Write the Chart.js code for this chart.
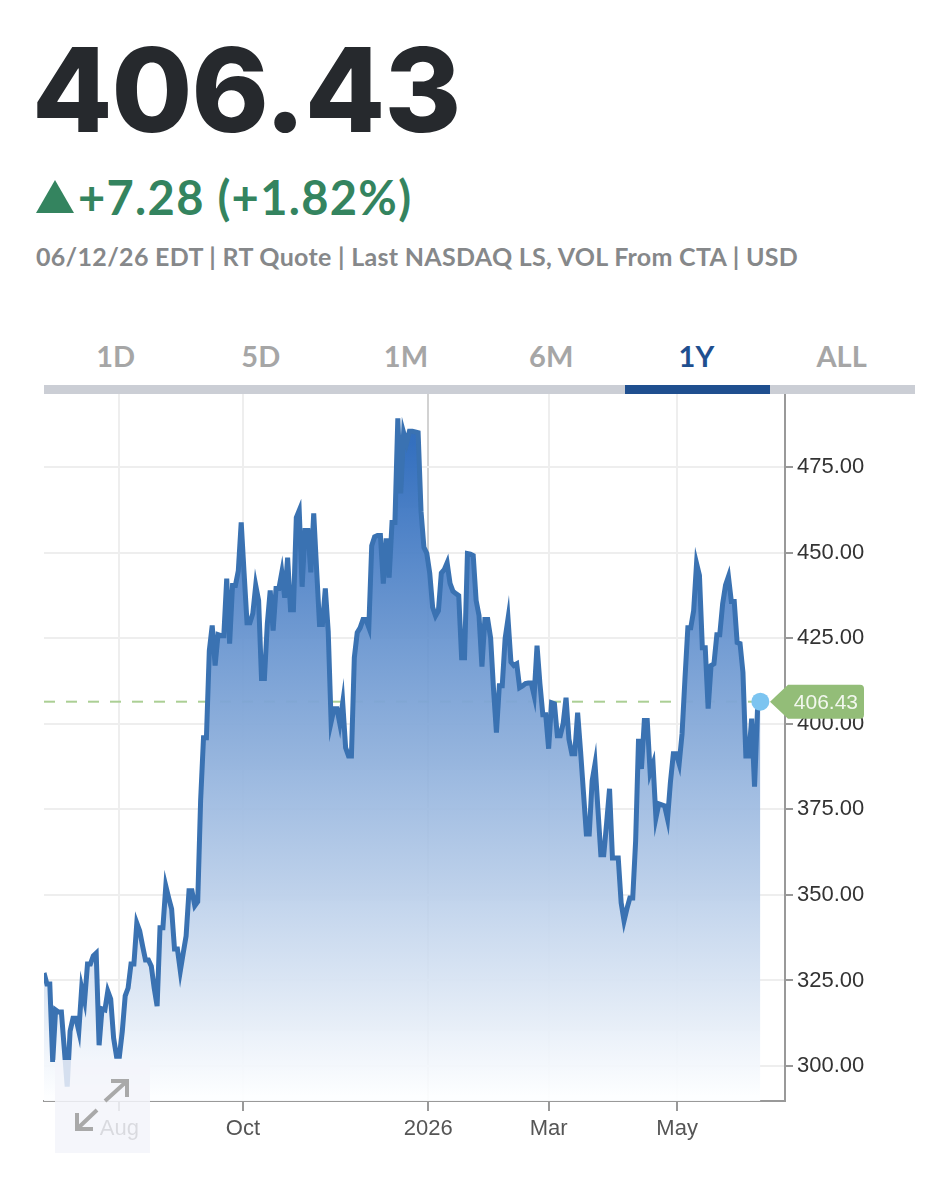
<!DOCTYPE html>
<html>
<head>
<meta charset="utf-8">
<script src="https://cdn.jsdelivr.net/npm/chart.js@4"></script>
<style>
  html, body { margin: 0; padding: 0; background: #fff; overflow: hidden; }
  #page { position: relative; width: 952px; height: 1200px; font-family: Lato, sans-serif; }
  .abs { position: absolute; white-space: nowrap; }
  #price { left: 32px; top: 15px; font-family: Inter, sans-serif; font-size: 117px; line-height: 150px; font-weight: 800; color: #26292d; letter-spacing: -1px; }
  #tri { left: 36px; top: 180px; width: 0; height: 0; border-left: 19px solid transparent; border-right: 19px solid transparent; border-bottom: 33px solid #34845f; }
  #change { left: 78px; top: 168px; font-size: 47px; line-height: 58px; font-weight: 700; color: #34845f; letter-spacing: 1.3px; }
  #meta { left: 36px; top: 240px; font-size: 25px; line-height: 32px; font-weight: 700; color: #86888a; letter-spacing: 0.3px; }
  .tab { top: 338px; width: 145.2px; text-align: center; font-size: 29px; line-height: 36px; font-weight: 700; color: #a6a6a6; }
  #tabbar { left: 44px; top: 385px; width: 871px; height: 9px; background: #cbced5; }
  #tabactive { left: 625px; top: 385px; width: 145px; height: 9px; background: #1f4f8f; }
  #chart { position: absolute; left: 0; top: 380px; }
  #expand { left: 55px; top: 1060px; width: 95px; height: 93px; background: rgba(243,244,250,0.84); }
</style>
</head>
<body>
<div id="page">
  <div class="abs" id="price">406.43</div>
  <div class="abs" id="tri"></div>
  <div class="abs" id="change">+7.28 (+1.82%)</div>
  <div class="abs" id="meta">06/12/26 EDT | RT Quote | Last NASDAQ LS, VOL From CTA | USD</div>
  <div id="tabs"></div>
  <canvas id="chart" width="952" height="780"></canvas>
  <div class="abs" id="tabbar"></div>
  <div class="abs" id="tabactive"></div>
  <div class="abs" id="expand">
    <svg width="95" height="93" fill="none" stroke="#a9a9a9" stroke-width="4">
      <path d="M50 41 L72 21 M56 21 H72 V37"/>
      <path d="M42 50 L22 69 M22 53 V69 H38"/>
    </svg>
  </div>
</div>
<script>
var tabNames = ["1D", "5D", "1M", "6M", "1Y", "ALL"];
var activeTab = "1Y";

// daily closes, one per session
var closes = [
  327.2, 324, 324, 301.2, 316.4, 315.8, 315.8, 305, 294, 310.2,
  314, 314, 310.2, 322.8, 319, 329.8, 329.8, 332.2, 333, 306.1,
  316.7, 316.4, 321.9, 319.6, 308.2, 302.9, 302.9, 310.2, 320.5, 322.8,
  329.8, 329.8, 341.8, 339.5, 335.1, 331, 331, 329.2, 322.8, 317.5,
  340.4, 340.4, 352.6, 349.1, 345.9, 334.2, 334.2, 327.8, 333, 338,
  351.2, 351.2, 346.8, 348, 377.5, 395.9, 395.9, 421.3, 428.7, 417,
  426, 425.7, 425.7, 442.4, 423.4, 440.4, 440.4, 444.7, 458.8, 443.9,
  429.5, 429.5, 432.2, 440.4, 436, 413.2, 413.2, 429.2, 438.9, 427.2,
  439.5, 439.5, 444.2, 436.8, 448.5, 433.3, 433.3, 460.2, 462.3, 440,
  456.4, 456.4, 444.2, 461.4, 445, 429, 429, 439.5, 427, 400.5,
  404.4, 404.4, 400, 406.1, 393, 390.6, 390.6, 419.3, 426.6, 428,
  430.4, 430.4, 428.1, 452, 454.6, 455, 455, 440.9, 454.1, 442.7,
  458.8, 458.8, 489.2, 467.3, 485, 481.9, 485.4, 485.4, 485.2, 485,
  462, 451.5, 449.7, 444, 434, 431.5, 433, 444, 445, 447,
  441, 438.7, 438, 437.4, 419.3, 419.3, 449.7, 449.5, 449.1, 436,
  431.6, 416.7, 430.4, 430.4, 425, 410, 397.4, 411.1, 411.1, 424.9,
  430.7, 418, 417, 417.5, 410.5, 411, 411.7, 411.9, 411.9, 408.2,
  422.8, 411.7, 402.6, 402.6, 392.7, 406.1, 405.8, 396.5, 396.5, 400,
  407.6, 395.5, 391.2, 391.2, 403.2, 392.1, 380, 367.8, 367.8, 383.3,
  388.3, 375, 361.7, 361.7, 371, 381, 360.8, 360.8, 360.8, 347.7,
  342.4, 346, 349.1, 349.1, 365.8, 395.6, 386.8, 400.9, 400.9, 385.7,
  388.3, 372.5, 376.6, 376.3, 376, 372.2, 383, 391.2, 391.2, 388.3,
  397, 413, 428, 428, 433, 446.8, 443.3, 422.2, 422.2, 404.4,
  417, 417.5, 426, 426, 435, 440.5, 443, 435.7, 435.7, 423.7,
  423.4, 415, 390.6, 390.6, 401.5, 381.6, 403.8, 406.43
];
var lastPrice = 406.43;

var yTicks = [300, 325, 350, 375, 400, 425, 450, 475];
var xTickSessions = [26, 68.6, 132.5, 174, 218.3];
var xTickLabels = ["Aug", "Oct", "2026", "Mar", "May"];
var xTickMajor = "2026";

var sessions = closes.map(function (c, i) { return i; });

tabNames.forEach(function (name, i) {
    var el = document.createElement("div");
    el.className = "abs tab";
    el.style.left = (43 + i * 145.2) + "px";
    if (name === activeTab) el.style.color = "#1f4f8f";
    el.textContent = name;
    document.getElementById("tabs").appendChild(el);
});

function areaFill(context) {
    var chart = context.chart;
    if (!chart.chartArea) return "rgba(50,115,195,0.5)";
    var y = chart.scales.y;
    var grad = chart.ctx.createLinearGradient(0, y.getPixelForValue(482), 0, y.getPixelForValue(291));
    grad.addColorStop(0, "rgba(44,106,188,0.96)");
    grad.addColorStop(1, "rgba(253,254,255,0.94)");
    return grad;
}

// green price tag next to the last point
var priceTag = {
    id: "priceTag",
    afterDraw: function (chart) {
        var c = chart.ctx;
        var py = chart.scales.y.getPixelForValue(lastPrice);
        c.save();
        c.fillStyle = "#93bd78";
        c.beginPath();
        c.moveTo(770, py);
        c.lineTo(788, py - 17);
        c.lineTo(860, py - 17);
        c.arcTo(864, py - 17, 864, py - 13, 4);
        c.lineTo(864, py + 13);
        c.arcTo(864, py + 17, 860, py + 17, 4);
        c.lineTo(788, py + 17);
        c.closePath();
        c.fill();
        c.fillStyle = "#f2f7ee";
        c.font = "21px 'Liberation Sans'";
        c.textAlign = "right";
        c.textBaseline = "middle";
        c.fillText(lastPrice.toFixed(2), 858, py + 2);
        c.restore();
    }
};

new Chart(document.getElementById("chart").getContext("2d"), {
    type: "line",
    data: {
        labels: sessions,
        datasets: [{
            data: closes,
            order: 1,
            borderColor: "#3a72b2",
            borderWidth: 5,
            borderJoinStyle: "miter",
            tension: 0,
            fill: "start",
            backgroundColor: areaFill,
            pointRadius: function (ctx) { return ctx.dataIndex === closes.length - 1 ? 9 : 0; },
            pointBackgroundColor: "#7cc4f0",
            pointBorderWidth: 0
        }, {
            data: [{ x: 0, y: lastPrice }, { x: closes.length - 1, y: lastPrice }],
            order: 2,
            borderColor: "#abcf94",
            borderWidth: 2,
            borderDash: [11, 11],
            pointRadius: 0,
            fill: false
        }]
    },
    options: {
        responsive: false,
        animation: false,
        events: [],
        layout: { padding: { left: 44, top: 14, right: 0, bottom: 0 } },
        plugins: { legend: { display: false }, tooltip: { enabled: false } },
        scales: {
            x: {
                type: "linear",
                min: 0,
                max: 255.5,
                afterBuildTicks: function (axis) {
                    axis.ticks = xTickSessions.map(function (v) { return { value: v }; });
                },
                afterFit: function (axis) {
                    axis.height = 59;
                    axis.paddingLeft = 0;
                    axis.paddingRight = 0;
                },
                border: { color: "#999999", width: 2 },
                grid: {
                    lineWidth: 2,
                    tickLength: 10,
                    tickColor: "#999999",
                    color: function (ctx) {
                        return ctx.index === xTickLabels.indexOf(xTickMajor) ? "#d2d2d2" : "#eeeeee";
                    }
                },
                ticks: {
                    autoSkip: false,
                    maxRotation: 0,
                    padding: 5,
                    color: "#555555",
                    font: { family: "'Liberation Sans'", size: 22 },
                    callback: function (v, i) { return xTickLabels[i]; }
                }
            },
            y: {
                position: "right",
                min: 289.8,
                max: 496.3,
                afterBuildTicks: function (axis) {
                    axis.ticks = yTicks.map(function (v) { return { value: v }; });
                },
                afterFit: function (axis) {
                    axis.width = 167;
                    axis.paddingTop = 0;
                    axis.paddingBottom = 0;
                },
                border: { color: "#999999", width: 2 },
                grid: { lineWidth: 2, tickLength: 8, tickColor: "#999999", color: "#eeeeee" },
                ticks: {
                    padding: 4,
                    color: "#333333",
                    font: { family: "'Liberation Sans'", size: 22 },
                    callback: function (v) { return v.toFixed(2); }
                }
            }
        }
    },
    plugins: [priceTag]
});
</script>
</body>
</html>
